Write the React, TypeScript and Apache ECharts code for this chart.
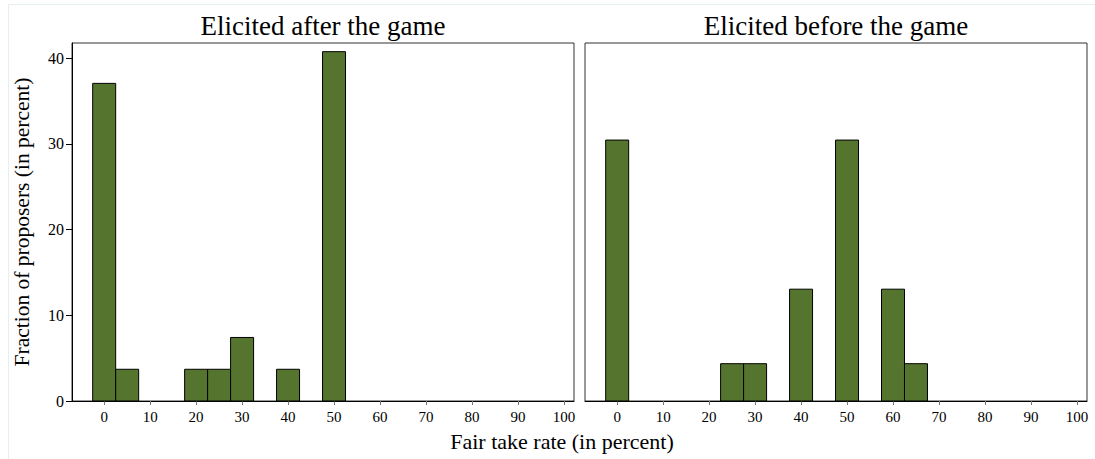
import React, { useEffect, useRef } from "react";
import * as echarts from "echarts";

const leftBins = [0, 5, 20, 25, 30, 40, 50];
const leftValues = [37.04, 3.7, 3.7, 3.7, 7.41, 3.7, 40.74];
const rightBins = [0, 25, 30, 40, 50, 60, 65];
const rightValues = [30.43, 4.35, 4.35, 13.04, 30.43, 13.04, 4.35];
const xTicks = [0, 10, 20, 30, 40, 50, 60, 70, 80, 90, 100];
const yTicks = [0, 10, 20, 30, 40];
const panelTitles = ["Elicited after the game", "Elicited before the game"];
const xTitle = "Fair take rate (in percent)";
const yTitle = "Fraction of proposers (in percent)";
const binWidth = 5;

const FONT = "Liberation Serif";
const BAR = "#55752f";

export default function App() {
  const ref = useRef<HTMLDivElement>(null);
  useEffect(() => {
    if (!ref.current) return;
    const chart = echarts.init(ref.current, undefined, { renderer: "svg" });
    const half = binWidth / 2;
    const renderItem = (params: any, api: any) => {
      const x = api.value(0);
      const y = api.value(1);
      const p0 = api.coord([x - half, 0]);
      const p1 = api.coord([x + half, y]);
      return {
        type: "rect",
        shape: { x: p0[0], y: p1[1], width: p1[0] - p0[0], height: p0[1] - p1[1] },
        style: { fill: BAR, stroke: "#000", lineWidth: 1 },
      };
    };
    const xAxisBase = (gridIndex: number) => ({
      type: "value",
      gridIndex,
      min: -7,
      max: 102.2,
      axisLine: { show: true, onZero: false, lineStyle: { color: "#000", width: 1 } },
      axisTick: { show: true, length: 4, lineStyle: { color: "#777" }, customValues: xTicks },
      axisLabel: { fontSize: 15, color: "#000", fontFamily: FONT, margin: 8, customValues: xTicks },
      splitLine: { show: false },
    });
    const grids = [
      { left: 72, top: 43, width: 502, height: 358 },
      { left: 585, top: 43, width: 502, height: 358 },
    ].map((g) => ({ ...g, show: true, borderColor: "#333", borderWidth: 1, backgroundColor: "#fff" }));
    const textStyle = (size: number) => ({ fontSize: size, fontFamily: FONT, fill: "#000", align: "center", verticalAlign: "middle" });
    chart.setOption({
      animation: false,
      backgroundColor: "#fff",
      grid: grids,
      xAxis: [xAxisBase(0), xAxisBase(1)],
      yAxis: [
        {
          type: "value",
          gridIndex: 0,
          min: 0,
          max: 41.75,
          axisLine: { show: true, onZero: false, lineStyle: { color: "#000" } },
          axisTick: { show: true, length: 6, lineStyle: { color: "#000" }, customValues: yTicks },
          axisLabel: { fontSize: 16, color: "#000", fontFamily: FONT, margin: 8, customValues: yTicks },
          splitLine: { show: false },
        },
        {
          type: "value",
          gridIndex: 1,
          min: 0,
          max: 41.75,
          axisLine: { show: false, onZero: false },
          axisTick: { show: false },
          axisLabel: { show: false },
          splitLine: { show: false },
        },
      ],
      series: [
        {
          type: "custom",
          xAxisIndex: 0,
          yAxisIndex: 0,
          renderItem,
          encode: { x: 0, y: 1 },
          data: leftBins.map((b, i) => [b, leftValues[i]]),
        },
        {
          type: "custom",
          xAxisIndex: 1,
          yAxisIndex: 1,
          renderItem,
          encode: { x: 0, y: 1 },
          data: rightBins.map((b, i) => [b, rightValues[i]]),
        },
      ],
      graphic: [
        {
          type: "rect",
          silent: true,
          z: -10,
          shape: { x: 8.5, y: 4.5, width: 1100, height: 470 },
          style: { fill: "none", stroke: "#e6eeee", lineWidth: 1 },
        },
        { type: "text", x: 323, y: 26, style: { text: panelTitles[0], ...textStyle(27) } },
        { type: "text", x: 836, y: 26, style: { text: panelTitles[1], ...textStyle(27) } },
        { type: "text", x: 562, y: 441, style: { text: xTitle, ...textStyle(22) } },
        { type: "text", x: 22, y: 222, rotation: Math.PI / 2, style: { text: yTitle, ...textStyle(21.5) } },
      ],
    });
    return () => chart.dispose();
  }, []);
  return (
    <div
      ref={ref}
      style={{ position: "fixed", left: 0, top: 0, width: 1095, height: 459, background: "#fff" }}
    />
  );
}
